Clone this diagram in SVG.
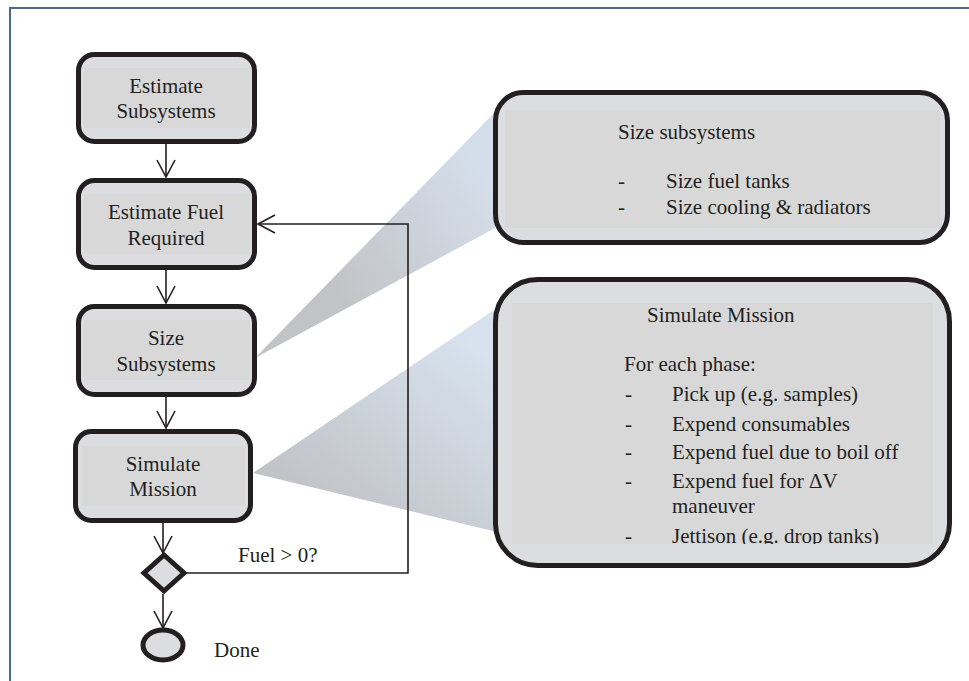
<svg xmlns="http://www.w3.org/2000/svg" width="969" height="681" viewBox="0 0 969 681">
<defs>
<style>
.node{fill:#dcdde0;stroke:#231f20;stroke-width:5}
.inner{fill:#d8d8d8;stroke:none}
.t{font-family:"Liberation Serif","Times New Roman",serif;font-size:21px;fill:#231f20}
.c{text-anchor:middle}
.conn{fill:none;stroke:#231f20;stroke-width:1.6}
.frame{fill:none;stroke:#4f6886;stroke-width:2}
</style>
<linearGradient id="g1" gradientUnits="userSpaceOnUse" x1="330" y1="290" x2="493" y2="190">
<stop offset="0" stop-color="#c2c3c6"/>
<stop offset="1" stop-color="#d4deea"/>
</linearGradient>
<linearGradient id="g2" gradientUnits="userSpaceOnUse" x1="330" y1="520" x2="470" y2="340">
<stop offset="0" stop-color="#c1c3c7"/>
<stop offset="1" stop-color="#d7e2ee"/>
</linearGradient>
<marker id="ah" viewBox="0 0 20 20" refX="18" refY="10" markerWidth="20" markerHeight="20" markerUnits="userSpaceOnUse" orient="auto">
<path d="M1,1 L18,10 L1,19" fill="none" stroke="#231f20" stroke-width="1.6"/>
</marker>
<clipPath id="clipSim"><rect x="505" y="290" width="440" height="254"/></clipPath>
</defs>

<g id="frame">
<path class="frame" d="M10,681 L10,8 L969,8"/>
</g>

<g id="callouts">
<polygon points="255,358 495,112 495,228" fill="url(#g1)"/>
<polygon points="253,473 497,308 497,532" fill="url(#g2)"/>
</g>

<g id="detail-size">
<rect class="node" x="495.5" y="92.5" width="452" height="150" rx="28"/>
<rect class="inner" x="505" y="110" width="435" height="118"/>
<text class="t" x="618" y="139">Size subsystems</text>
<text class="t" x="618" y="188">-</text>
<text class="t" x="666" y="188">Size fuel tanks</text>
<text class="t" x="618" y="214">-</text>
<text class="t" x="666" y="214">Size cooling &amp; radiators</text>
</g>

<g id="detail-simulate">
<rect class="node" x="495.5" y="279.5" width="454" height="286" rx="42"/>
<rect class="inner" x="512" y="303" width="421" height="241"/>
<g clip-path="url(#clipSim)">
<text class="t" x="647" y="322">Simulate Mission</text>
<text class="t" x="624" y="371">For each phase:</text>
<text class="t" x="625" y="401">-</text>
<text class="t" x="672" y="401">Pick up (e.g. samples)</text>
<text class="t" x="625" y="431">-</text>
<text class="t" x="672" y="431">Expend consumables</text>
<text class="t" x="625" y="459">-</text>
<text class="t" x="672" y="459">Expend fuel due to boil off</text>
<text class="t" x="625" y="488">-</text>
<text class="t" x="672" y="488">Expend fuel for ΔV</text>
<text class="t" x="672" y="513">maneuver</text>
<text class="t" x="625" y="543">-</text>
<text class="t" x="672" y="543">Jettison (e.g. drop tanks)</text>
</g>
</g>

<g id="estimate-subsystems">
<rect class="node" x="78.5" y="54.5" width="176" height="87" rx="16"/>
<rect class="inner" x="84" y="68" width="166" height="60"/>
<text class="t c" x="166" y="93">Estimate</text>
<text class="t c" x="166" y="118">Subsystems</text>
</g>

<g id="estimate-fuel">
<rect class="node" x="78.5" y="180.5" width="176" height="87" rx="16"/>
<rect class="inner" x="84" y="194" width="166" height="60"/>
<text class="t c" x="166" y="219">Estimate Fuel</text>
<text class="t c" x="166" y="245">Required</text>
</g>

<g id="size-subsystems">
<rect class="node" x="78.5" y="306.5" width="176" height="88" rx="16"/>
<rect class="inner" x="84" y="320" width="166" height="60"/>
<text class="t c" x="166" y="345">Size</text>
<text class="t c" x="166" y="371">Subsystems</text>
</g>

<g id="simulate-mission">
<rect class="node" x="75.5" y="431.5" width="175" height="89" rx="16"/>
<rect class="inner" x="82" y="446" width="163" height="60"/>
<text class="t c" x="163" y="471">Simulate</text>
<text class="t c" x="163" y="496">Mission</text>
</g>

<g id="decision">
<polygon class="node" points="164,555 184,573 164,591 144,573"/>
</g>

<g id="done">
<ellipse class="node" cx="163" cy="645" rx="20" ry="15"/>
<text class="t" x="214" y="657">Done</text>
</g>

<g id="connectors">
<line class="conn" x1="166" y1="144" x2="166" y2="177" marker-end="url(#ah)"/>
<line class="conn" x1="166" y1="270" x2="166" y2="303" marker-end="url(#ah)"/>
<line class="conn" x1="166" y1="397" x2="166" y2="428" marker-end="url(#ah)"/>
<line class="conn" x1="163" y1="523" x2="163" y2="553" marker-end="url(#ah)"/>
<line class="conn" x1="163" y1="594" x2="163" y2="628" marker-end="url(#ah)"/>
<polyline class="conn" points="186,573 408,573 408,224 258,224" marker-end="url(#ah)"/>
<text class="t" x="238" y="562">Fuel &gt; 0?</text>
</g>
</svg>
